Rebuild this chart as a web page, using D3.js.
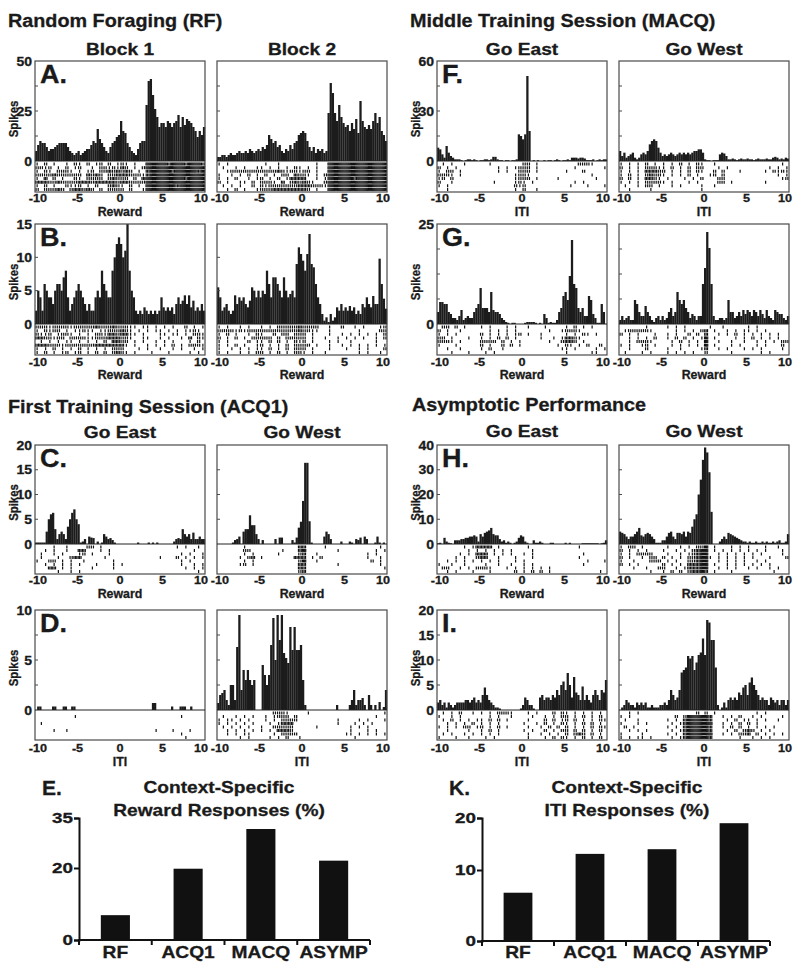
<!DOCTYPE html>
<html><head><meta charset="utf-8">
<script src="https://cdn.jsdelivr.net/npm/d3@7"></script>
<style>
body{margin:0;background:#fff;}
text{font-family:"Liberation Sans",Arial,sans-serif;font-weight:bold;fill:#1a1a1a;stroke:#1a1a1a;stroke-width:0.3px;}
</style></head><body>
<svg id="fig" width="800" height="971"></svg>
<script>
/* ---- histogram data: 80 bins of 0.25 s, -10 .. 10 s (spikes) ---- */
var histA1 = [5,8,10,9, 9,7,5,6, 6,7,8,9, 9,9,9,7, 5,4,3,4,
  5,3,4,5, 6,6,8,10, 9,16,11,9, 7,5,4,7, 9,10,12,13,
  20,15,14,9, 7,5,4,3, 6,9,10,10, 28,40,41,33, 26,22,17,19,
  19,17,20,19, 17,19,20,23, 17,22,18,21, 20,19,17,15, 12,15,13,17];
var histA2 = [2,2,3,3, 2,3,4,3, 3,4,5,4, 4,5,4,6, 5,4,5,6,
  5,7,6,8, 13,11,9,10, 7,8,5,4, 6,5,8,6, 9,10,13,14,
  15,14,10,7, 5,7,4,6, 5,6,4,5, 24,39,34,24, 20,28,22,19,
  17,18,15,19, 16,21,14,30, 20,17,16,18, 16,20,24,19, 22,15,13,10];
var histB1 = [2,5,4,2, 6,5,4,4, 3,5,6,6, 5,7,8,4, 2,3,4,5,
  6,5,4,3, 2,3,2,2, 4,5,4,8, 6,5,4,4, 8,10,12,13,
  12,10,11,15, 8,5,4,2, 1.5,2,1.5,2.5, 2,1.5,2,1.5, 2,1.5,2,4,
  2.5,2,2.5,2, 2.5,1.5,3,4, 3,3.5,4.3,3, 4.3,2.5,3.5,2, 2.5,2,3,2];
var histB2 = [5.5,4,2,2.5, 3,2,1.5,2, 4.3,3,4,3.5, 4,3,2.5,3.5, 5.5,5,4,5,
  4,5,4.5,8, 6,4,7,7, 6,5,4,7, 5,4,4.5,5, 4,9,11.5,10.5,
  9.5,8,10.5,13.5, 9,8.5,6,4, 3,1.5,0.5,1, 0.3,1.5,0.5,1, 2.5,2,3,2,
  2.5,2,2.7,2, 2.5,1.5,2,1.5, 3,2.5,4,3, 2.5,4.2,3,3, 9.8,6,3.8,2.3];
var histC1 = [0.3,0.3,0.3,0.3, 0.3,2.5,5,6, 6.3,3,1,2, 2.5,2,1,3.5, 5,6.3,7,5,
  4,0.3,0.5,1, 0,1.5,1.3,1.2, 0,0.5,0,0.3, 2,1.5,1,1.2, 0.8,0.3,0,0,
  0,0,0,0, 0,0,0,0, 0.3,0,0,0, 0,0.3,0,0.3, 0,0.3,0,0,
  0,0,0,0, 0,0.5,1,1.2, 1,3,2,1.5, 2,1,2.3,1, 1,1.5,1,1];
var histC2 = [0,0,0,0, 0,0,0,0.3, 0.8,1,1.5,0, 2.5,3,3,5.8, 3.8,3.8,2,1,
  0,0.8,0,0, 0,0,0,1, 0,1.3,1.3,0, 0,0,0,0.8, 0.3,1.3,3.3,4.5,
  8.7,16.4,16.4,4.6, 0.3,0,0,0, 0,0,1.5,2.5, 2,1,0,0, 0,0,0.5,0,
  0,0,0.5,0.3, 0,1,0.8,1.3, 0,1.5,1,0, 0,0,0.3,1.5, 0.3,0,0.3,0];
var histD1 = [0,0.35,0.35,0, 0,0,0,0, 0.35,0.35,0,0, 0,0.35,0.35,0, 0,0.35,0.35,0,
  0,0,0,0, 0,0,0,0, 0,0,0,0, 0,0,0,0, 0,0,0,0,
  0,0,0,0, 0,0,0,0, 0,0,0,0, 0,0,0,0.7, 0.7,0,0,0,
  0,0,0,0, 0.35,0,0,0, 0.35,0.35,0.35,0, 0,0.35,0,0, 0,0,0,0];
var histD2 = [0.7,1.5,1.7,2, 1,0.5,2.5,2.5, 1,6.3,9.5,2, 4,3,4,3, 2.5,3,0,0,
  0,4.5,3.5,2.5, 3.5,6.5,9.2,5, 9.5,7,9.5,5.7, 5.2,4.7,8.3,6, 8.3,6,6,6.5,
  3,0.5,0,0, 0,0,0,0, 0,0,0,0, 0,0,0,0, 0.5,0,0,0,
  0,0,0.5,1, 2,0.5,1,1, 1.2,0.5,0,1.5, 0.5,0,0.5,0, 0.8,0,0.3,2];
var histF1 = [8,7,4,2, 9,5,3,2, 1,1,1,0.5, 0,0.5,1,1, 0.5,1,0.5,0,
  0.5,0.5,1,1, 0.5,1,2.5,2.5, 1,0.5,0.5,0, 0.5,0.5,0,0.5, 0.5,1,16,15,
  13,16,51,18, 0,0.5,0,0.5, 0,0,0.5,0, 0.5,0.5,0,0.5, 1,0.5,0,0.5,
  0.5,1,0.5,2, 2,2,1.5,2, 2,1.5,0.5,0.5, 0.5,1,0,0.5, 1,0.5,1,1];
var histF2 = [6,3,5,2, 3,4,5,2, 1,2,4,5, 4,6,10,12, 13,12,8,5,
  3,4,3,4, 5,4,3,4, 5,4,5,4, 5,4,5,6, 6,7,7,5,
  1,0.5,0.5,0, 0.5,0.5,0.5,4, 5,4.5,3,1, 1,1.5,1,0.5, 1,1.5,1,1,
  1.5,1,1,0.5, 1,1.5,1,1, 1,1.5,1,1, 2,2.5,2,1, 1.5,1,2,1.5];
var histG1 = [3,5.5,5.5,5, 5,3,2.5,1.5, 1.5,1,2,3.5, 1,1.5,2,1.5, 1.5,3,4,5,
  9,4,4,4, 3,8,3.5,3, 3,2.5,1.5,1, 0.5,0.3,0,0.3, 0.3,0,0,0,
  0,0.3,0.5,0.5, 0.5,0.5,0.3,0, 0.3,0,2.5,1.5, 0.3,0.5,0.3,0.3, 1,3,4,7,
  8,6,12,21, 10,9,4,3, 4,2,2,7, 6,2.5,1.5,0.3, 0.3,5,3,0];
var histG2 = [1,2,1,1.5, 2,1,1,6, 5,3,2,2, 4.5,3,2,1, 0.5,1.5,2,1,
  2,1,1.5,3, 4,2,3,8, 6,5,6,4, 3,1.5,2.5,2, 1,2,2,10,
  14,23,19,10, 2,1,1,1.5, 1.5,1,1.5,6, 3,3,1.5,2, 3,2,3.5,2.5,
  3.5,3,2,3.5, 3,2,3.5,2.5, 1.5,3.5,2,1.5, 1,3.5,3,2.5, 2.5,1.5,1,2];
var histH1 = [0.3,0.5,0,2.5, 1,0.5,0.3,0, 1.5,1.5,1.5,2, 2,2.5,2.5,3, 3,3.5,3,1,
  4,3,4.5,5, 5.5,6.5,4,3.5, 3.5,2,1,1.5, 0.5,1,0.5,0, 0.5,1,2.5,3.5,
  3,1,0.5,0, 0,1.5,0.5,0.5, 1,0.5,0,0, 0,0.5,0.5,0, 0,0,0,0,
  0.5,0,0.5,0, 0,0,0,0, 0.3,0.3,0.3,0.3, 0.3,0.3,0.3,0.3, 0,0.3,0.5,1.5];
var histH2 = [5,4.5,4,3, 2,3,3,4, 5,6.5,3.5,3, 4,4.5,4,3, 2,0.5,0.5,0.5,
  1.5,1.5,3,4.5, 5,3,2,4.5, 4.5,4,5,3, 5,4.5,7,10, 12,20,26,34,
  39,37,29,13, 0,0,0,1, 2,3,2,4.5, 4,3.5,3,2.5, 2,1.5,1,1,
  0.5,1,0.5,0.5, 1,0.5,0.5,1, 0.5,1,0.5,0.5, 1,0.5,1,1.5, 0.5,0.5,1,4];
var histI1 = [1.5,2,1,1.5, 0.5,1.5,1,0.5, 1,1.5,1.5,1.5, 1.5,2,2,1.5, 2,2.5,1.5,2,
  1.5,3,4.5,3, 2,1.5,1,0.5, 0.5,0.3,0,0, 0,0,0,0, 0,0,0,0.3,
  1,2.5,2,1, 1,0.3,0,0, 2.5,3,2,2.5, 2.5,2,3,2.5, 4,3,5,5.7,
  4,7.4,5,2.5, 6.6,3.5,3,2, 4.7,2,3,2, 1.5,3,4,3, 2,4,3.5,6];
var histI2 = [0,0.5,1,2, 1.5,1,1,0.5, 1.5,1,1.5,1, 1.5,0.5,0.5,1, 0.5,0.5,0.5,1,
  1,1.5,1,2, 4,3,2,2.5, 4,7.5,8,8.5, 10.8,10.3,10.8,8, 9.5,11,11.5,14.3,
  11,18,17.5,14, 14,8.5,1,0, 0.5,1.5,0.5,2, 2.5,2,2.5,2, 3.5,3,4.5,5,
  3,5.5,6.5,5, 4,3,2,2.5, 2,2,1,2.5, 2,1.5,2,1, 2,2,1,2];

/* ---- raster data: 8 trials per panel, each as 4 strings of ten 0.5 s cells, digit = spikes in cell ---- */
var rasA1 = [
  ["1.2.1..1.2","1.2.12.2.1","21.1..4444","4344434443"],
  ["2212.1.2.1","2..1.22121","32.1.24444","4444444444"],
  ["1.21.2221.","1.12.22323","232.1.3444","4434444434"],
  ["2222322222","2.3232.223","3322213444","4444444444"],
  ["1.3.2.1..2","1.2222.232","22.2.34444","4444434444"],
  ["3332232222","3332333332","3322224444","4444444444"],
  ["1.2.1..211","2.1.2..232","1.2.1.4444","4443444444"],
  ["2.22232.23","3232.2.222","2.2..14444","4444444444"]];
var rasA2 = [
  ["1.1.......",".1..1.....","...1..4444","4444444444"],
  [".1..1.1..1","1.1.1.1.21",".1.1..4444","4444444444"],
  ["..12222222","2222321221","22.1..4444","4444444444"],
  ["1..1.1.2.1",".2.1.22.32","21.1.24444","4444444444"],
  ["1.1.2..1.1","2.1.2.1333","3..1.14444","4434444444"],
  ["2.1..11.2.","2221.3.232","321..24444","4444444444"],
  [".1.1.1..2.","2122222223","3322214444","4444444444"],
  ["..1.2.1..1","2223333333","32.1..4444","4444444444"]];
var rasB1 = [
  ["2221222212","2222322232","2211.11.1.","1.1..2.1.1"],
  ["1.2122.1.1","1211.11222","321.1.1.11",".1.1.1121."],
  ["2112.1221.","1.1.221332","3311.1...1","1.11.1.221"],
  ["3322122.22","2211222333","221..11..1",".1..1.3.21"],
  [".1.1.1.11.","1.1.1.2.33","22.1.1..1.","1.1...1.2."],
  ["3332221222","2222333333","31.1..1.1.","1.2.1.2221"],
  ["1.1.2.1.1.","2.1.1.1.22","2...1.1..1","..1.1..1.1"],
  ["1.2.1.12.1","2.1.2.2.23","21.1...1..",".1....1.1."]];
var rasB2 = [
  ["1.1..1.1..","1.1.222223","2222..1..2","..1.1...12"],
  ["2222121222","2222222223","2211..1...","...1....22"],
  ["1.2.1..1.2","1..2.22.22","2.1...1..1",".1.1.1.1.2"],
  ["2.1.2.1.22","222.2.2222","2.1..1..1.","1.1.1..1.2"],
  ["1.1....2.1","1.2.2.1.21","2.1...1.1.",".1.....1.."],
  ["1.1.2.1..1","2.1.1.2.22","22.1..1..1",".1.1.1.1.1"],
  ["1..1.1.1.1","1.2.1.2.22","2.1...1...","1..1.1...2"],
  ["1.1..1.1.2","2.1.2.1.22","1.1..1....","...1.1..1."]];
var rasC1 = [
  ["....1..1..","..22.1....","..........","...1.1..1."],
  ["..1.1..1..","33...1.1..","..........",".......1.."],
  [".1..1.1...","12.1...1..","..........","....1.1..1"],
  [".1...1..23","3.....1...",".........1","...2.1.1.1"],
  ["1..22.1.1.",".1......1.","..........","....1.1..."],
  ["..1.1.1.1.","1...1...1.","1.........","....1..1.1"],
  ["...33.1.1.","...1....1.","..........",".....1.1.1"],
  [".....1..1.","1.........","..........","........1."]];
var rasC2 = [
  ["......1...",".........3","3....1....","........1."],
  ["......22..",".....1...3","4.......1.",".......1.1"],
  ["......1.1.","....1....2","3..1......",".....1.1.."],
  [".....1.23.","1.......33","3.1.2.....",".....1..1."],
  ["......1.1.",".........2","4..1......","......2.1."],
  [".....12.1.",".........3","3.......1.","........1."],
  ["..........",".........3","3.........",".........1"],
  ["..........",".........2","3.........",".........."]];
var rasD1 = [
  ["..........","..........","..........",".........."],
  [".........1","..........","..........","....1....."],
  ["..........","..........","..........",".........."],
  [".1........","..........","..........",".........."],
  ["..........","..........","..........",".........."],
  ["....1..1..","..........","........1.","..1...1..."],
  ["..........","..........","..........","....1....."],
  ["..........","..........","..........",".....1...."]];
var rasD2 = [
  ["..........","...2221...",".1........",".........1"],
  [".1..1.1.1.",".1.1222.2.","..........",".......1.."],
  ["1.11.1.1..",".1.1.2222.","........1.","...1.1...1"],
  ["1.1.1.1.1.","..1.1333..","........1.","..1.1.1..."],
  [".1.1.1.1..","1..22222..","...1......",".1.1.1...."],
  ["..1.1.1.1.","1.1.3332..","..........",".1...1.1.."],
  ["..1.1.11..","...1.2222.","..........","11.1.1.1.1"],
  [".....1.1..","..1.1.2..1","..........","..1......."]];
var rasF1 = [
  [".1.1..1...","..1.......","22.1......","...2221..."],
  ["2.1.1.....","....1.1.12","22.1......","..1......1"],
  ["1.22.1....","....1.1..2","22.1......","1...2....."],
  ["2221.1....","........12","21........","......1..."],
  ["12.2......","........12","22.1....1.",".......1.."],
  ["2..1......","...1....12","1.1.......","..1.1....."],
  ["1.1.......","........21","2.........",".1...1...1"],
  ["..1.......","........1.","2..1......",".........."]];
var rasF2 = [
  ["1.1.1.2.1.","1.1.2.1.21","..1.......","........1."],
  ["2.1.1.2221","1.2.1.2.22","...1.1....",".....1.1.1"],
  ["1.1.1.3332","2.1.1.2.21","..2.2...1.","....1.2121"],
  ["1.2.1.2322","1.1.1.2.1.",".12.2.....",".......1.1"],
  ["2.2.1.3321",".1...1.1.2","...22.....","........12"],
  ["1.1.1.2222","1.1...1.1.","...22.1...","....1....."],
  [".1..1.22.1","..1.1....1","..1.......",".........."],
  ["..1....1..",".........1","..........",".........."]];
var rasG1 = [
  [".22.2.1...","1.1...1.1.",".1...1....","1.2.1.1..."],
  ["2.1..1....","..1.1.1.1.","......1..1","2221......"],
  ["1.1.1.....","2.1.1.1.12",".1..1.....","1.1.21.1.."],
  ["22.1...1..","1.1.2.2.1.","....1..1.1","3321......"],
  ["2221.1....","2222.2.1.1","......1..2","332.1....."],
  ["1...1.....","2.1..2.2.1","........1.","21.1.2..2."],
  ["..1..1....","1.2..1....",".........1","1.1....1.1"],
  ["...1...1..",".1.1......","..........","1.....11.."]];
var rasG2 = [
  ["......1...",".1.1.1....",".1..1.....","1.1......."],
  [".1222221..","...1.1.1.2","3.1..1.1.1","1.1.1....."],
  ["2.1.1...1.",".1.1..2.2.","3..1.1.2.1",".1.1.1.1.."],
  ["..1.1.1.2.",".1.2.2.1.1","4.1....1.1",".2.1.1.1.."],
  ["..1.2221..","..1.2.1.1.","4..1..1..1","..1.1.1.22"],
  ["1.1..12.1.","..1.1.1.1.","4.1...1.1.","..1.1...2."],
  ["..1...2...",".1..1....1","3..1.1...1",".1.1....1."],
  [".1...1.1..",".1.1.1.1..","2.....1...","...1.1...."]];
var rasH1 = [
  ["......1.13","333.1.....",".1........","...1......"],
  [".......1.1",".1.1.1.1..","..1.......",".........."],
  [".....1.1.3","33.1.1.1..","1.1.......","....1....."],
  ["....1.1..2","33..1...1.","..1.......","...1......"],
  ["..1.1.1.1.","1.1.1...1.","1.........",".....1...1"],
  ["1..1..1...",".1..1..1..","1.1.......","....1....."],
  [".22..1.1.2","221...1.1.","1.1.1.1...",".........."],
  ["..1.1...1.","..1.....2.","1.2.2.1...","........1."]];
var rasH2 = [
  ["1.22.1....",".1..1.1.22","4.1...1.1.","1...1..1.."],
  ["2.1.1.1...","1..1.1.234","4.1.1.1.1.","1.1.1...1."],
  ["1.1.2222..",".1..1.1234","4..1.1.1.1",".1.1....1."],
  ["2.1..1.22.","2.1.1.2234","41.1.1.1.1",".1...1...2"],
  ["1..1...222",".1.1..2234","4..1.1.1.1","..1.1....."],
  ["2.1.1.....","2.1.1.3334","4.1..1.1.1",".1.1.1...."],
  ["...1..1..2","2..1.13334","4..1.1.1..","1.1..1.1.."],
  [".......1..","1.2.2.2334","3.1...1...","......1..."]];
var rasI1 = [
  [".1.1.2..1.","1.1.2221..",".1.1...2.2","1.1.1.1.1."],
  ["1..1.1....","..1.1..1..","..1..1.1.2","2.1.2.1.2."],
  [".1.2.1.1.1","1.2.2.1...",".1...2.2.1","2.2.1.1.21"],
  ["..1.1.1.2.","1.1.1.....","1..1.2.1.2","1.1.2.2.1."],
  ["1.1.1.22.1","2.1.2.1...",".1..1.2.2.","2.1.1.2.21"],
  ["..1....1..","1.2.1.....","1.1..2.1.2","2.2.2.1.2."],
  [".1.1..1.1.","1.1.1.....",".1..1.1.1.","2.232.2.1."],
  ["1...1..1..",".1.1......",".1...1.2.2","1.1.2.1.2."]];
var rasI2 = [
  ["..1.1.....","........2.","2.1.......","..1.1....."],
  ["1.1.......","...2.24444","43..1.1.2.",".1.1....1."],
  [".1..1.....",".1.1.34444","43...1.2.1","1.1.1..1.."],
  ["1...1.1...","..1.134444","44..1.1.2.","2.1......."],
  [".2.1......",".1.1.34444","43..1.2.2.","1.1.1.1..."],
  ["..1.1.1...","..1.134444","43...1.2.2","32.1.1...."],
  ["1....1....",".1.1.34444","44..1.1.22","3.2.1.1.1."],
  ["1.1.11.1..","..1.134444","43......1.",".1.1.1...."]];

/* ---- summary bar charts ---- */
var stages = ["RF", "ACQ1", "MACQ", "ASYMP"];
var rewardPct = [6.9, 19.8, 31.7, 22.2];
var itiPct = [6.8, 13.1, 14.0, 19.0];

/* ---- labels ---- */
var sectionTitles = ["Random Foraging (RF)", "Middle Training Session (MACQ)", "First Training Session (ACQ1)", "Asymptotic Performance"];
var colTitles = [["Block 1", "Block 2"], ["Go East", "Go West"], ["Go East", "Go West"], ["Go East", "Go West"]];
var xTicks = [-10, -5, 0, 5, 10];

var binW = 0.25, cellW = 0.5;

/* layout */
var rows = [
  {top: 61, zero: 161, bottom: 192, tickY: 202, labY: 216},
  {top: 224, zero: 324, bottom: 355, tickY: 365.5, labY: 379},
  {top: 445, zero: 544, bottom: 574, tickY: 584, labY: 598},
  {top: 610, zero: 710, bottom: 740, tickY: 751.5, labY: 766}
];
var cols = [[35, 205], [217, 387], [437, 607], [619, 789]];

var panels = [
  {r: 0, c: 0, h: histA1, s: rasA1, max: 50, step: 12.5, yl: [0, 25, 50], tag: "A.", xl: "Reward"},
  {r: 0, c: 1, h: histA2, s: rasA2, max: 50, step: 12.5, xl: "Reward"},
  {r: 1, c: 0, h: histB1, s: rasB1, max: 15, step: 5, yl: [0, 5, 10, 15], tag: "B.", xl: "Reward"},
  {r: 1, c: 1, h: histB2, s: rasB2, max: 15, step: 5, xl: "Reward"},
  {r: 2, c: 0, h: histC1, s: rasC1, max: 20, step: 5, yl: [0, 5, 10, 15, 20], tag: "C.", xl: "Reward"},
  {r: 2, c: 1, h: histC2, s: rasC2, max: 20, step: 5, xl: "Reward"},
  {r: 3, c: 0, h: histD1, s: rasD1, max: 10, step: 2.5, yl: [0, 5, 10], tag: "D.", xl: "ITI"},
  {r: 3, c: 1, h: histD2, s: rasD2, max: 10, step: 2.5, xl: "ITI"},
  {r: 0, c: 2, h: histF1, s: rasF1, max: 60, step: 15, yl: [0, 30, 60], tag: "F.", xl: "ITI"},
  {r: 0, c: 3, h: histF2, s: rasF2, max: 60, step: 15, xl: "ITI"},
  {r: 1, c: 2, h: histG1, s: rasG1, max: 25, step: 6.25, yl: [0, 25], tag: "G.", xl: "Reward"},
  {r: 1, c: 3, h: histG2, s: rasG2, max: 25, step: 6.25, xl: "Reward"},
  {r: 2, c: 2, h: histH1, s: rasH1, max: 40, step: 10, yl: [0, 10, 20, 30, 40], tag: "H.", xl: "Reward"},
  {r: 2, c: 3, h: histH2, s: rasH2, max: 40, step: 10, xl: "Reward"},
  {r: 3, c: 2, h: histI1, s: rasI1, max: 20, step: 5, yl: [0, 5, 10, 15, 20], tag: "I.", xl: "ITI"},
  {r: 3, c: 3, h: histI2, s: rasI2, max: 20, step: 5, xl: "ITI"}
];

var svg = d3.select("#fig");
svg.append("rect").attr("width", 800).attr("height", 971).attr("fill", "#fff");

/* bold text, slightly stretched horizontally like the original */
function label(x, y, str, size, anchor, sx, rot) {
  return svg.append("text")
    .attr("transform", "translate(" + x + "," + y + ")" + (rot ? "rotate(" + rot + ")" : "") + "scale(" + (sx || 1) + ",1)")
    .attr("text-anchor", anchor || "start")
    .style("font-size", size + "px")
    .text(str);
}

/* headings */
var secPos = [[8, 27], [410, 27], [8, 413], [412, 411]];
sectionTitles.forEach(function(t, i) { label(secPos[i][0], secPos[i][1], t, 18.5, "start", 1.07); });
var colTitlePos = [{r: 0, c: 0, y: 55}, {r: 0, c: 2, y: 55}, {r: 2, c: 0, y: 438}, {r: 2, c: 2, y: 437}];
colTitlePos.forEach(function(p, i) {
  colTitles[i].forEach(function(t, j) {
    var C = cols[p.c + j];
    label((C[0] + C[1]) / 2, p.y, t, 16.5, "middle", 1.16);
  });
});

/* end labels sit a little inside the frame so neighbours do not collide */
function tickNudge(v) { return v === 10 ? -4 : (v === -10 ? 3 : 0); }

/* PSTH + raster panels */
panels.forEach(function(p) {
  var R = rows[p.r], C = cols[p.c];
  var x = d3.scaleLinear().domain([-10, 10]).range(C);
  var y = d3.scaleLinear().domain([0, p.max]).range([R.zero, R.top]);
  var g = svg.append("g");
  var bw = x(-10 + binW) - x(-10);

  g.selectAll("rect.bin").data(p.h).enter().append("rect")
    .attr("x", function(d, i) { return x(-10 + i * binW); })
    .attr("width", bw + 0.15)
    .attr("y", function(d) { return y(d); })
    .attr("height", function(d) { return R.zero - y(d); })
    .attr("fill", "#1c1c1c");

  // raster: expand the cell counts into tick times
  var trial = d3.scaleBand().domain(d3.range(p.s.length)).range([R.zero + 1.5, R.bottom - 0.5]);
  var spk = [];
  p.s.forEach(function(segs, ri) {
    segs.forEach(function(seg, si) {
      for (var k = 0; k < seg.length; k++) {
        var n = +seg[k] || 0;
        var c0 = -10 + (si * 10 + k) * cellW;
        for (var j = 0; j < n; j++) spk.push({t: c0 + (j + 0.5) * cellW / n, row: ri});
      }
    });
  });
  g.selectAll("line.spk").data(spk).enter().append("line")
    .attr("x1", function(d) { return x(d.t); })
    .attr("x2", function(d) { return x(d.t); })
    .attr("y1", function(d) { return trial(d.row); })
    .attr("y2", function(d) { return trial(d.row) + trial.bandwidth() - 0.6; })
    .attr("stroke", "#111").attr("stroke-width", 1.2);

  // frame, zero line, inner ticks
  g.append("rect").attr("x", C[0]).attr("y", R.top)
    .attr("width", C[1] - C[0]).attr("height", R.bottom - R.top)
    .attr("fill", "none").attr("stroke", "#4a4a4a").attr("stroke-width", 1.2);
  g.append("line").attr("x1", C[0]).attr("x2", C[1]).attr("y1", R.zero).attr("y2", R.zero)
    .attr("stroke", "#222").attr("stroke-width", 1.2);
  g.selectAll("line.yt").data(d3.range(p.step, p.max, p.step)).enter().append("line")
    .attr("x1", C[0]).attr("x2", C[0] + 3)
    .attr("y1", function(d) { return y(d); }).attr("y2", function(d) { return y(d); })
    .attr("stroke", "#4a4a4a");

  if (p.yl) {
    p.yl.forEach(function(v) { label(C[0] - 3, y(v) + 4.5, v, 12.5, "end", 1.12); });
    label(C[0] - 17, (R.top + R.zero) / 2 + 8, "Spikes", 12, "middle", 0.95, -90);
  }
  if (p.tag) label(C[0] + 5, R.top + 22, p.tag, 25, "start", 1.08);

  xTicks.forEach(function(v) { label(x(v) + tickNudge(v), R.tickY, v, 11.5, "middle", 1.1); });
  label((C[0] + C[1]) / 2, R.labY, p.xl, 12, "middle", 1.03);
});

/* summary bar charts E and K */
function barChart(vals, x0, x1, yDom, yRng, tag, tagX, titleLines, titleX) {
  var x = d3.scaleBand().domain(stages).range([x0, x1]).paddingInner(0.6).paddingOuter(0.3);
  var y = d3.scaleLinear().domain(yDom).range(yRng);
  var g = svg.append("g");
  g.selectAll("rect").data(vals).enter().append("rect")
    .attr("x", function(d, i) { return x(stages[i]); })
    .attr("width", x.bandwidth())
    .attr("y", function(d) { return y(d); })
    .attr("height", function(d) { return y(0) - y(d); })
    .attr("fill", "#111");

  var ya = g.append("g").attr("transform", "translate(" + x0 + ",0)")
    .call(d3.axisLeft(y).tickValues(yDom).tickSize(5).tickFormat(""));
  ya.select(".domain").attr("stroke", "#111").attr("stroke-width", 2);
  ya.selectAll(".tick line").attr("stroke", "#111").attr("stroke-width", 2);

  var base = y(0);
  g.append("line").attr("x1", x0 - 1).attr("x2", x1).attr("y1", base).attr("y2", base)
    .attr("stroke", "#111").attr("stroke-width", 2);
  g.selectAll("line.xt").data(d3.range(stages.length + 1)).enter().append("line")
    .attr("x1", function(k) { return x0 + k * x.step(); })
    .attr("x2", function(k) { return x0 + k * x.step(); })
    .attr("y1", base).attr("y2", base + 5)
    .attr("stroke", "#111").attr("stroke-width", 2);

  yDom.forEach(function(v) { label(x0 - 6, y(v) + 5, v, 14.5, "end", 1.3); });
  stages.forEach(function(s) { label(x(s) + x.bandwidth() / 2, 958, s, 16, "middle", 1.2); });
  label(tagX, 795, tag, 21, "start", 1.0);
  label(titleX, 793, titleLines[0], 16.5, "middle", 1.16);
  label(titleX, 816, titleLines[1], 16.5, "middle", 1.16);
}
barChart(rewardPct, 79, 370, [0, 20, 35], [940, 868, 818], "E.", 42, ["Context-Specific", "Reward Responses (%)"], 219);
barChart(itiPct, 482, 770, [0, 10, 20], [941, 870, 818], "K.", 449, ["Context-Specific", "ITI Responses (%)"], 627);
</script>
</body></html>
